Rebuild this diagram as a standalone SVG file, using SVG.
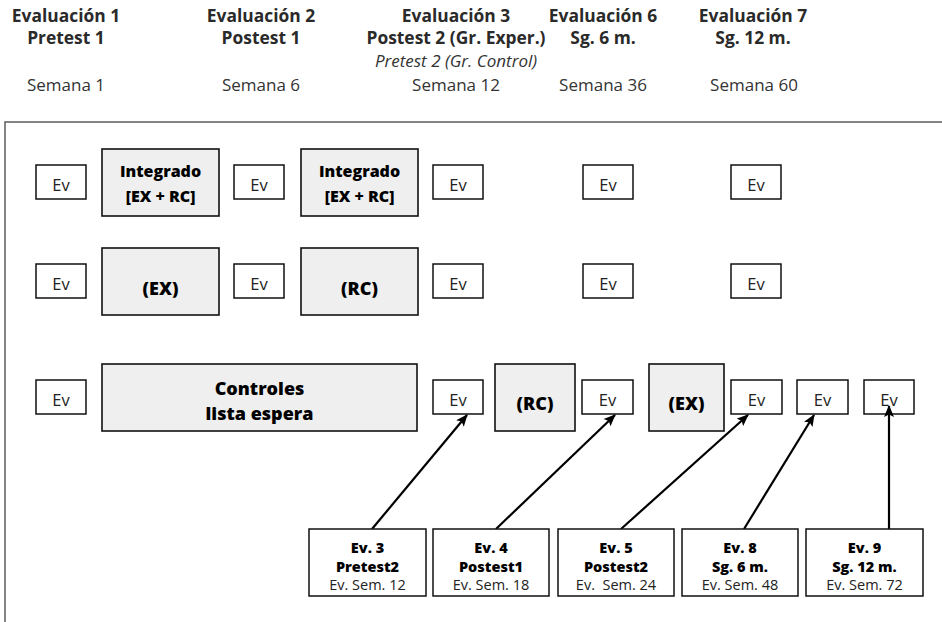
<svg xmlns="http://www.w3.org/2000/svg" width="942" height="622" viewBox="0 0 942 622">
<style>
text{font-family:"Open Sans","Noto Sans","DejaVu Sans",sans-serif;text-anchor:middle;fill:#1a1a1a}
.h{font-size:17.4px;font-weight:700;fill:#2a2a2a}
.hi{font-size:17px;font-style:italic;fill:#333}
.s{font-size:17px;fill:#333}
.ev{fill:#fff;stroke:#111;stroke-width:1.5}
.tr{fill:#eeefee;stroke:#111;stroke-width:1.6}
.evt{font-size:16.5px;fill:#222}
.tb{font-size:16px;font-weight:800;fill:#000}
.tbl{font-size:18px;font-weight:800;fill:#000}
.bb{font-size:14.5px;font-weight:800;fill:#000}
.bn{font-size:14.5px;fill:#222}
.con{stroke:#000;stroke-width:2.2;fill:none;marker-end:url(#ah)}
</style>
<defs>
<marker id="ah" viewBox="0 0 12 10" refX="11" refY="5" markerWidth="13" markerHeight="10" markerUnits="userSpaceOnUse" orient="auto">
<path d="M0,0 L12,5 L0,10 L2.5,5 z" fill="#000"/>
</marker>
</defs>
<rect width="942" height="622" fill="#fff"/>

<g id="headers">
<text class="h" x="66" y="22">Evaluación 1</text>
<text class="h" x="66" y="44">Pretest 1</text>
<text class="s" x="66" y="91">Semana 1</text>
<text class="h" x="261" y="22">Evaluación 2</text>
<text class="h" x="261" y="44">Postest 1</text>
<text class="s" x="261" y="91">Semana 6</text>
<text class="h" x="456" y="22">Evaluación 3</text>
<text class="h" x="456" y="44">Postest 2 (Gr. Exper.)</text>
<text class="hi" x="456" y="67">Pretest 2 (Gr. Control)</text>
<text class="s" x="456" y="91">Semana 12</text>
<text class="h" x="603" y="22">Evaluación 6</text>
<text class="h" x="603" y="44">Sg. 6 m.</text>
<text class="s" x="603" y="91">Semana 36</text>
<text class="h" x="753" y="22">Evaluación 7</text>
<text class="h" x="753" y="44">Sg. 12 m.</text>
<text class="s" x="754" y="91">Semana 60</text>
</g>

<rect id="frame" x="5" y="122" width="1000" height="600" fill="none" stroke="#666" stroke-width="1.6"/>

<!-- Row 1 -->
<g id="r1-ev1"><rect class="ev" x="36" y="165" width="50" height="34"/><text class="evt" x="61" y="191">Ev</text></g>
<g id="r1-int1"><rect class="tr" x="102" y="149" width="117" height="67"/><text class="tb" x="160.5" y="177">Integrado</text><text class="tb" x="160.5" y="202">[EX + RC]</text></g>
<g id="r1-ev2"><rect class="ev" x="234" y="165" width="50" height="34"/><text class="evt" x="259" y="191">Ev</text></g>
<g id="r1-int2"><rect class="tr" x="301" y="149" width="117" height="67"/><text class="tb" x="359.5" y="177">Integrado</text><text class="tb" x="359.5" y="202">[EX + RC]</text></g>
<g id="r1-ev3"><rect class="ev" x="433" y="165" width="50" height="34"/><text class="evt" x="458" y="191">Ev</text></g>
<g id="r1-ev4"><rect class="ev" x="583" y="165" width="50" height="34"/><text class="evt" x="608" y="191">Ev</text></g>
<g id="r1-ev5"><rect class="ev" x="731" y="165" width="50" height="34"/><text class="evt" x="756" y="191">Ev</text></g>

<!-- Row 2 -->
<g id="r2-ev1"><rect class="ev" x="36" y="264" width="50" height="34"/><text class="evt" x="61" y="290">Ev</text></g>
<g id="r2-ex"><rect class="tr" x="102" y="248" width="117" height="67"/><text class="tbl" x="160.5" y="295">(EX)</text></g>
<g id="r2-ev2"><rect class="ev" x="234" y="264" width="50" height="34"/><text class="evt" x="259" y="290">Ev</text></g>
<g id="r2-rc"><rect class="tr" x="301" y="248" width="117" height="67"/><text class="tbl" x="359.5" y="295">(RC)</text></g>
<g id="r2-ev3"><rect class="ev" x="433" y="264" width="50" height="34"/><text class="evt" x="458" y="290">Ev</text></g>
<g id="r2-ev4"><rect class="ev" x="583" y="264" width="50" height="34"/><text class="evt" x="608" y="290">Ev</text></g>
<g id="r2-ev5"><rect class="ev" x="731" y="264" width="50" height="34"/><text class="evt" x="756" y="290">Ev</text></g>

<!-- Row 3 -->
<g id="r3-ev1"><rect class="ev" x="36" y="380" width="50" height="34"/><text class="evt" x="61" y="406">Ev</text></g>
<g id="r3-ctrl"><rect class="tr" x="102" y="364" width="315" height="67"/><text class="tbl" x="259.5" y="395">Controles</text><text class="tbl" x="259.5" y="420">lista espera</text></g>
<g id="r3-ev2"><rect class="ev" x="433" y="380" width="50" height="34"/><text class="evt" x="458" y="406">Ev</text></g>
<g id="r3-rc"><rect class="tr" x="495" y="364" width="80" height="67"/><text class="tbl" x="535" y="410">(RC)</text></g>
<g id="r3-ev3"><rect class="ev" x="582" y="380" width="51" height="34"/><text class="evt" x="607.5" y="406">Ev</text></g>
<g id="r3-ex"><rect class="tr" x="649" y="364" width="75" height="67"/><text class="tbl" x="686.5" y="410">(EX)</text></g>
<g id="r3-ev4"><rect class="ev" x="731" y="380" width="51" height="34"/><text class="evt" x="756.5" y="406">Ev</text></g>
<g id="r3-ev5"><rect class="ev" x="797" y="380" width="51" height="34"/><text class="evt" x="822.5" y="406">Ev</text></g>
<g id="r3-ev6"><rect class="ev" x="864" y="380" width="50" height="34"/><text class="evt" x="889" y="406">Ev</text></g>

<!-- Connectors -->
<g id="connectors">
<line class="con" x1="372" y1="529" x2="467" y2="415"/>
<line class="con" x1="496" y1="529" x2="615" y2="415"/>
<line class="con" x1="621" y1="529" x2="748" y2="415"/>
<line class="con" x1="744" y1="529" x2="814" y2="415"/>
<line class="con" x1="889" y1="529" x2="889" y2="406"/>
</g>

<!-- Bottom boxes -->
<g id="b-ev3"><rect class="ev" x="309" y="529" width="117" height="67"/><text class="bb" x="367.5" y="553">Ev. 3</text><text class="bb" x="367.5" y="572">Pretest2</text><text class="bn" x="367.5" y="590">Ev. Sem. 12</text></g>
<g id="b-ev4"><rect class="ev" x="433" y="529" width="116" height="67"/><text class="bb" x="491" y="553">Ev. 4</text><text class="bb" x="491" y="572">Postest1</text><text class="bn" x="491" y="590">Ev. Sem. 18</text></g>
<g id="b-ev5"><rect class="ev" x="558" y="529" width="116" height="67"/><text class="bb" x="616" y="553">Ev. 5</text><text class="bb" x="616" y="572">Postest2</text><text class="bn" x="616" y="590" xml:space="preserve">Ev.  Sem. 24</text></g>
<g id="b-ev8"><rect class="ev" x="682" y="529" width="116" height="67"/><text class="bb" x="740" y="553">Ev. 8</text><text class="bb" x="740" y="572">Sg. 6 m.</text><text class="bn" x="740" y="590">Ev. Sem. 48</text></g>
<g id="b-ev9"><rect class="ev" x="806" y="529" width="117" height="67"/><text class="bb" x="864.5" y="553">Ev. 9</text><text class="bb" x="864.5" y="572">Sg. 12 m.</text><text class="bn" x="864.5" y="590">Ev. Sem. 72</text></g>
</svg>
